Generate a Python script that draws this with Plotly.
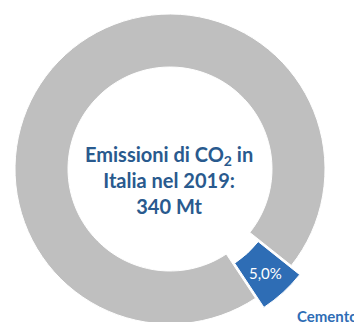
import math
import plotly.graph_objects as go

labels = ["Cemento", "Altro"]
values = [5.0, 95.0]
slice_text = ["5,0%", ""]
colors = ["#2E6DB5", "#BFBFBF"]
center_text = "<b>Emissioni di CO<sub>2</sub> in<br>Italia nel 2019:<br>340 Mt</b>"

W, H = 354, 340
cx, cy, r, pull = 170, 169, 155, 0.08
hole = 102 / 155
rotation = 128.5
half = r * (1 + pull)

fig = go.Figure(go.Pie(
    labels=labels,
    values=values,
    textinfo="none",
    marker=dict(colors=colors, line=dict(color="white", width=1)),
    hole=hole,
    pull=[pull, 0],
    sort=False,
    direction="clockwise",
    rotation=rotation,
    showlegend=False,
    hoverinfo="skip",
    domain=dict(x=[(cx - half) / W, (cx + half) / W],
                y=[(H - (cy + half)) / H, (H - (cy - half)) / H]),
))

# slice label placed at the middle of the pulled slice
mid = math.radians(rotation + 360 * values[0] / sum(values) / 2)
rr = r * (1 + hole) / 2 + r * pull
lx = cx + rr * math.sin(mid)
ly = cy - rr * math.cos(mid)
fig.add_annotation(text=slice_text[0], x=lx / W, y=1 - ly / H, xref="paper", yref="paper",
                   showarrow=False, font=dict(family="Lato", size=15, color="white"),
                   xanchor="center", yanchor="middle")

fig.add_annotation(text=center_text, x=169 / W, y=1 - 180 / H, xref="paper", yref="paper",
                   showarrow=False, font=dict(family="Lato", size=20, color="#295A8E"),
                   xanchor="center", yanchor="middle", align="center")
fig.add_annotation(text="<b>" + labels[0] + "</b>", x=295 / W, y=1 - 316 / H, xref="paper", yref="paper",
                   showarrow=False, font=dict(family="Lato", size=15, color="#2E6DB5"),
                   xanchor="left", yanchor="middle")

fig.update_layout(width=W, height=H, margin=dict(l=0, r=0, t=0, b=0),
                  paper_bgcolor="white", plot_bgcolor="white")

fig.write_html("out.html",
               post_script="document.documentElement.style.overflow='hidden';document.body.style.overflow='hidden';")
